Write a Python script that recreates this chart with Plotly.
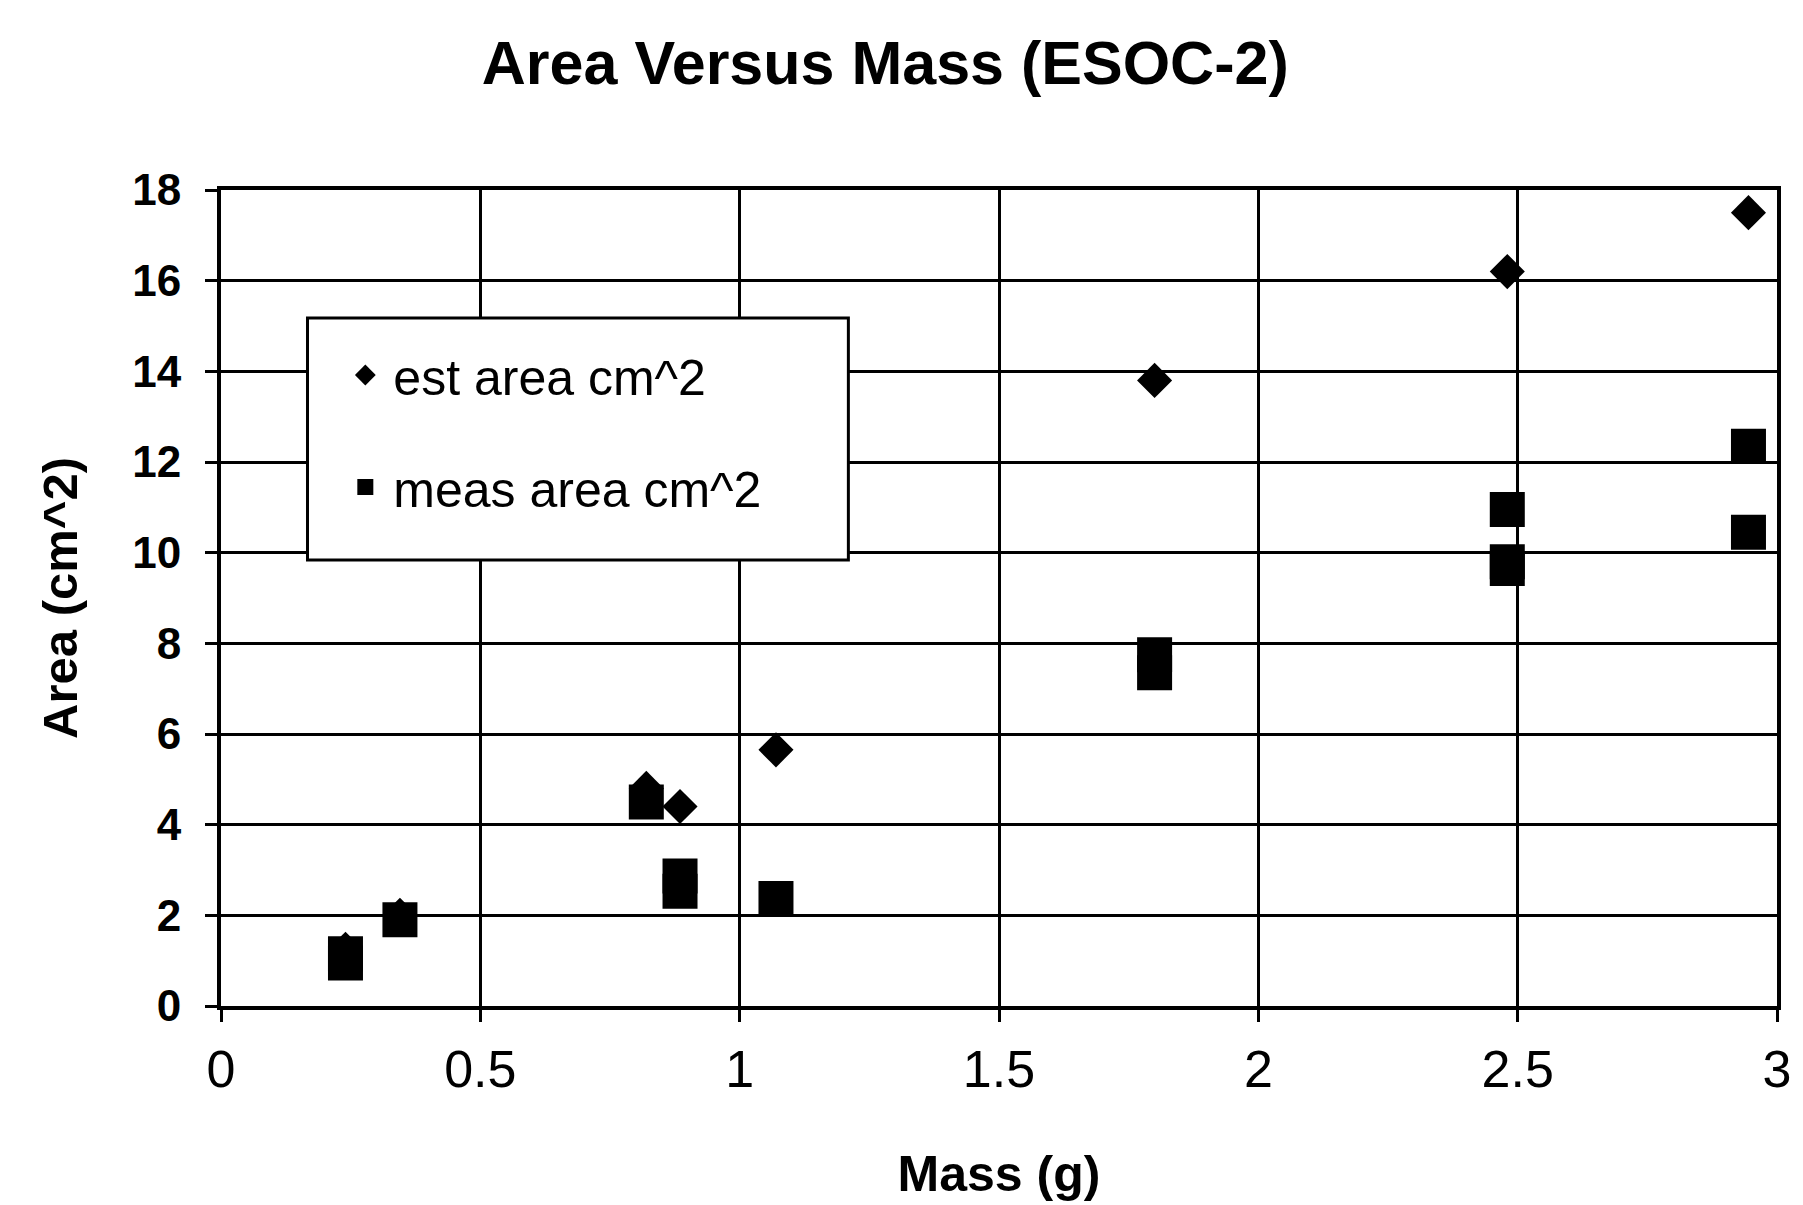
import plotly.graph_objects as go

# ---- data ----
est_mass = [0.24, 0.345, 0.82, 0.885, 1.07, 1.80, 2.48, 2.945]
est_area = [1.25, 2.0, 4.8, 4.4, 5.65, 13.8, 16.2, 17.5]

meas_mass = [0.24, 0.24, 0.345, 0.82, 0.885, 0.885, 1.07, 1.80, 1.80, 2.48, 2.48, 2.48, 2.945, 2.945]
meas_area = [0.95, 1.15, 1.9, 4.5, 2.53, 2.87, 2.37, 7.35, 7.75, 10.95, 9.65, 9.8, 12.35, 10.45]

x_ticks = [0, 0.5, 1, 1.5, 2, 2.5, 3]
x_tick_text = ["0", "0.5", "1", "1.5", "2", "2.5", "3"]
y_ticks = [0, 2, 4, 6, 8, 10, 12, 14, 16, 18]

FONT = "Liberation Sans, Arial, Helvetica, sans-serif"

# plot-area geometry (pixels) used to place the legend box in paper units
W, H = 1803, 1205
L, R, T, B = 221, 17, 190, 199
PW, PH = W - L - R, H - T - B


def px_x(p):
    return (p - L) / PW


def px_y(p):
    return (H - B - p) / PH


fig = go.Figure()
fig.add_trace(go.Scatter(
    x=est_mass, y=est_area, mode="markers", name="est area cm^2",
    legendgroup="est",
    marker=dict(symbol="diamond", size=27, color="black"),
))
fig.add_trace(go.Scatter(
    x=meas_mass, y=meas_area, mode="markers", name="meas area cm^2",
    legendgroup="meas",
    marker=dict(symbol="square", size=35, color="black"),
))

# legend frame (white box with black border, covering the grid)
fig.add_shape(
    type="rect", xref="paper", yref="paper",
    x0=px_x(308), x1=px_x(852), y0=px_y(560), y1=px_y(318),
    fillcolor="white", line=dict(color="black", width=3), layer="above",
)

fig.update_layout(
    width=W, height=H,
    paper_bgcolor="white", plot_bgcolor="white",
    margin=dict(l=L, r=R, t=T, b=B),
    font=dict(family=FONT, color="black"),
    title=dict(
        text="<b>Area Versus Mass (ESOC-2)</b>",
        x=0.491, xref="container", xanchor="center",
        y=1 - 63 / H, yref="container", yanchor="middle",
        font=dict(size=61, family=FONT, color="black"),
    ),
    showlegend=True,
    legend=dict(
        x=px_x(338), y=px_y(336),
        xanchor="left", yanchor="top",
        bgcolor="rgba(0,0,0,0)", borderwidth=0,
        font=dict(size=50, family=FONT, color="black"),
        tracegroupgap=44,
        itemwidth=46,
    ),
)

fig.update_xaxes(
    range=[0, 3], tickmode="array", tickvals=x_ticks, ticktext=x_tick_text,
    showgrid=True, gridcolor="black", gridwidth=3,
    showline=True, linecolor="black", linewidth=4, mirror=True,
    ticks="outside", ticklen=12, tickwidth=3, tickcolor="black",
    tickfont=dict(size=52, family=FONT, color="black"),
    ticklabelstandoff=3,
    zeroline=False,
    title=dict(text="<b>Mass (g)</b>", font=dict(size=50, family=FONT, color="black"), standoff=60),
)
fig.update_yaxes(
    range=[0, 18], tickmode="array", tickvals=y_ticks,
    ticktext=["<b>%d</b>" % v for v in y_ticks],
    showgrid=True, gridcolor="black", gridwidth=3,
    showline=True, linecolor="black", linewidth=4, mirror=True,
    ticks="outside", ticklen=12, tickwidth=3, tickcolor="black",
    tickfont=dict(size=44, family=FONT, color="black"),
    ticklabelstandoff=15,
    zeroline=False,
    title=dict(text="<b>Area (cm^2)</b>", font=dict(size=49, family=FONT, color="black"), standoff=40),
)

fig.write_html("out.html")
